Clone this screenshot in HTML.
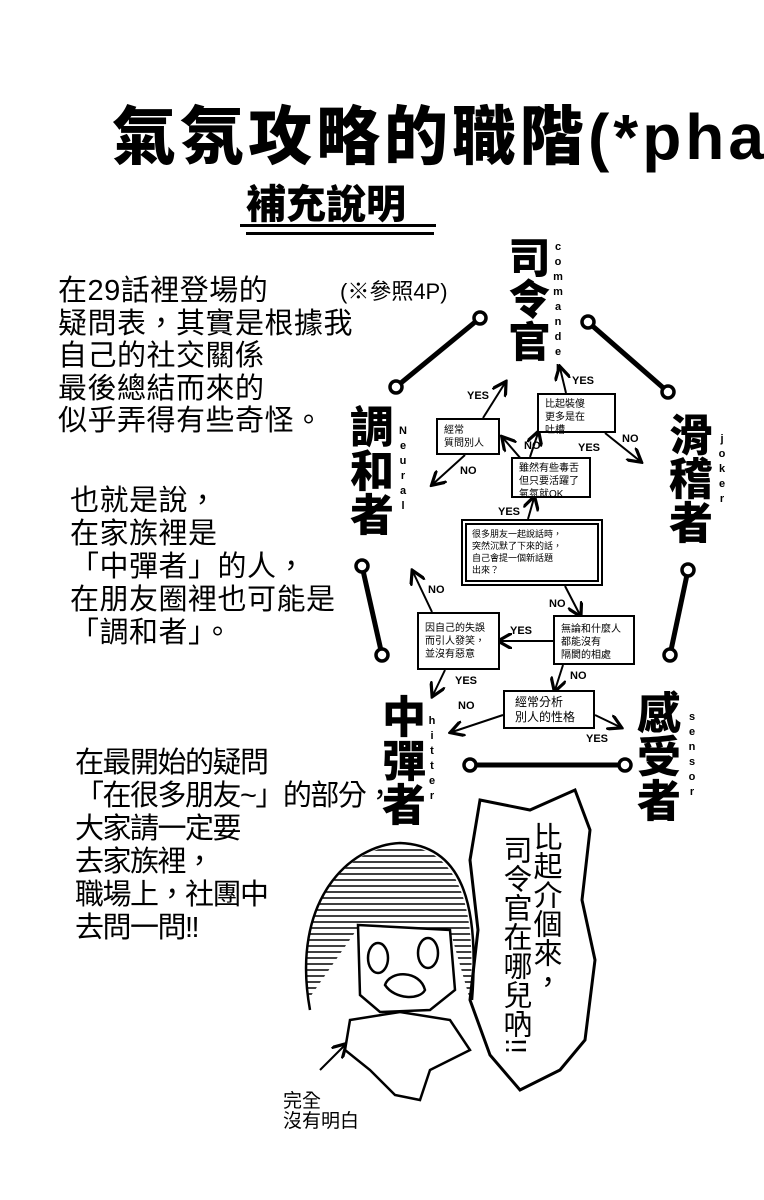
<!DOCTYPE html>
<html><head><meta charset="utf-8"><style>
body{margin:0;background:#fff}
#p{position:relative;width:764px;height:1200px;overflow:hidden;background:#fff;font-family:"Liberation Sans","Noto Sans CJK TC",sans-serif;color:#000}
.a{position:absolute;white-space:nowrap}
.v{position:absolute;writing-mode:vertical-rl;font-weight:900;line-height:1}
.s{position:absolute;font-size:11px;font-weight:bold;line-height:15px;text-align:center;width:10px}
.b{position:absolute;border:2.5px solid #000;font-size:10px;line-height:13px;padding:3px 6px;box-sizing:border-box;background:#fff}
.t{font-size:29px;line-height:32.5px;letter-spacing:0.5px}
.l{position:absolute;font-size:11px;font-weight:bold}
</style></head><body><div id="p">
<div class="a" style="left:112px;top:86px;font-size:64px;font-weight:900;letter-spacing:4px">氣氛攻略的職階(*pha</div>
<div class="a" style="left:246px;top:172px;font-size:40px;font-weight:900">補充說明</div>
<div class="a" style="left:240px;top:224px;width:196px;height:3px;background:#000"></div>
<div class="a" style="left:246px;top:232px;width:188px;height:3px;background:#000"></div>

<div class="a t" style="left:58px;top:275px">在29話裡登場的<br>疑問表，其實是根據我<br>自己的社交關係<br>最後總結而來的<br>似乎弄得有些奇怪。</div>
<div class="a" style="left:340px;top:274px;font-size:22px">(※參照4P)</div>
<div class="a t" style="left:70px;top:485px;line-height:33px">也就是說，<br>在家族裡是<br>「中彈者」的人，<br>在朋友圈裡也可能是<br>「調和者」。</div>
<div class="a t" style="left:75px;top:747px;line-height:33px;letter-spacing:-1.5px">在最開始的疑問<br>「在很多朋友~」的部分，<br>大家請一定要<br>去家族裡，<br>職場上，社團中<br>去問一問!!</div>

<div class="v" style="left:505px;top:236px;font-size:42px">司令官</div>
<div class="s" style="left:553px;top:240px">c<br>o<br>m<br>m<br>a<br>n<br>d<br>e<br>r</div>
<div class="v" style="left:345px;top:404px;font-size:44px">調和者</div>
<div class="s" style="left:398px;top:424px">N<br>e<br>u<br>r<br>a<br>l</div>
<div class="v" style="left:664px;top:412px;font-size:44px">滑稽者</div>
<div class="s" style="left:717px;top:432px">j<br>o<br>k<br>e<br>r</div>
<div class="v" style="left:377px;top:694px;font-size:44px">中彈者</div>
<div class="s" style="left:427px;top:714px">h<br>i<br>t<br>t<br>e<br>r</div>
<div class="v" style="left:632px;top:690px;font-size:44px">感受者</div>
<div class="s" style="left:687px;top:710px">s<br>e<br>n<br>s<br>o<br>r</div>

<svg class="a" style="left:0;top:0" width="764" height="1200">
<defs><marker id="m" markerWidth="8" markerHeight="8" refX="6" refY="4" orient="auto"><path d="M0,0L7,4L0,8" fill="none" stroke="#000" stroke-width="1.6"/></marker></defs>
<g stroke="#000" stroke-width="5" fill="#fff">
<line x1="480" y1="318" x2="396" y2="387"/><line x1="588" y1="322" x2="668" y2="392"/>
<line x1="362" y1="566" x2="382" y2="655"/><line x1="688" y1="570" x2="670" y2="655"/>
<line x1="470" y1="765" x2="625" y2="765"/>
<g stroke-width="3.5"><circle cx="480" cy="318" r="6"/><circle cx="396" cy="387" r="6"/><circle cx="588" cy="322" r="6"/><circle cx="668" cy="392" r="6"/><circle cx="362" cy="566" r="6"/><circle cx="382" cy="655" r="6"/><circle cx="688" cy="570" r="6"/><circle cx="670" cy="655" r="6"/><circle cx="470" cy="765" r="6"/><circle cx="625" cy="765" r="6"/></g>
</g>
<g stroke="#000" stroke-width="2" fill="none" marker-end="url(#m)">
<line x1="566" y1="393" x2="560" y2="368"/><line x1="483" y1="418" x2="505" y2="383"/>
<line x1="605" y1="433" x2="640" y2="461"/><line x1="465" y1="455" x2="433" y2="484"/>
<line x1="530" y1="457" x2="538" y2="433"/><line x1="522" y1="460" x2="503" y2="438"/>
<line x1="528" y1="519" x2="534" y2="498"/><line x1="565" y1="586" x2="580" y2="615"/>
<line x1="432" y1="612" x2="413" y2="572"/><line x1="553" y1="641" x2="500" y2="641"/>
<line x1="445" y1="670" x2="433" y2="695"/><line x1="563" y1="665" x2="555" y2="690"/>
<line x1="503" y1="715" x2="452" y2="732"/><line x1="595" y1="715" x2="620" y2="727"/>
<line x1="320" y1="1070" x2="345" y2="1045"/>
</g>
<g fill="#fff" stroke="#000" stroke-width="2"><rect x="462" y="520" width="140" height="65"/><rect x="466" y="524" width="132" height="57"/></g>
<path d="M480,800 L530,810 L575,790 L590,830 L582,900 L595,960 L585,1040 L560,1070 L520,1090 L490,1055 L470,1000 L478,930 L470,860 Z" fill="#fff" stroke="#000" stroke-width="3"/>
<g fill="none" stroke="#000" stroke-width="2.5">
<path d="M310,1010 C290,900 350,845 400,843 C460,845 480,900 472,1000"/>
</g>
<clipPath id="c"><path d="M308,1000 C295,900 350,846 400,846 C455,846 478,900 470,1000 L450,930 L360,925 Z"/></clipPath>
<g clip-path="url(#c)" stroke="#000" stroke-width="1.6">
<line x1="290" y1="850" x2="490" y2="850"/><line x1="290" y1="856" x2="490" y2="856"/><line x1="290" y1="862" x2="490" y2="862"/><line x1="290" y1="868" x2="490" y2="868"/><line x1="290" y1="874" x2="490" y2="874"/><line x1="290" y1="880" x2="490" y2="880"/><line x1="290" y1="886" x2="490" y2="886"/><line x1="290" y1="892" x2="490" y2="892"/><line x1="290" y1="898" x2="490" y2="898"/><line x1="290" y1="904" x2="490" y2="904"/><line x1="290" y1="910" x2="490" y2="910"/><line x1="290" y1="916" x2="490" y2="916"/><line x1="290" y1="922" x2="490" y2="922"/><line x1="290" y1="928" x2="490" y2="928"/><line x1="290" y1="934" x2="490" y2="934"/><line x1="290" y1="940" x2="490" y2="940"/><line x1="290" y1="946" x2="490" y2="946"/><line x1="290" y1="952" x2="490" y2="952"/><line x1="290" y1="958" x2="490" y2="958"/><line x1="290" y1="964" x2="490" y2="964"/><line x1="290" y1="970" x2="490" y2="970"/><line x1="290" y1="976" x2="490" y2="976"/><line x1="290" y1="982" x2="490" y2="982"/><line x1="290" y1="988" x2="490" y2="988"/><line x1="290" y1="994" x2="490" y2="994"/>
</g>
<g fill="#fff" stroke="#000" stroke-width="2.5">
<path d="M358,925 L450,930 L455,990 L430,1010 L380,1012 L360,995 Z"/>
<ellipse cx="378" cy="958" rx="10" ry="15"/><ellipse cx="428" cy="953" rx="10" ry="15"/>
<path d="M385,985 C390,970 420,970 425,990 C420,1000 395,1000 385,985Z"/>
<path d="M350,1020 L400,1012 L450,1020 L470,1050 L430,1070 L420,1100 L395,1095 L370,1070 L345,1050Z"/>
</g>
</svg>

<div class="b" style="left:537px;top:393px;width:79px;height:40px">比起裝傻<br>更多是在<br>吐槽</div>
<div class="b" style="left:436px;top:418px;width:64px;height:37px;padding-top:4px">經常<br>質問別人</div>
<div class="b" style="left:511px;top:457px;width:80px;height:41px">雖然有些毒舌<br>但只要活躍了<br>氣氛就OK</div>
<div class="a" style="left:472px;top:528px;font-size:9px;line-height:12px">很多朋友一起說話時，<br>突然沉默了下來的話，<br>自己會提一個新話題<br>出來？</div>
<div class="b" style="left:417px;top:612px;width:83px;height:58px;padding-top:8px">因自己的失誤<br>而引人發笑，<br>並沒有惡意</div>
<div class="b" style="left:553px;top:615px;width:82px;height:50px;padding-top:6px">無論和什麼人<br>都能沒有<br>隔閡的相處</div>
<div class="b" style="left:503px;top:690px;width:92px;height:39px;font-size:12px;line-height:15px;padding-left:10px">經常分析<br>別人的性格</div>

<div class="l" style="left:467px;top:390px">YES</div><div class="l" style="left:572px;top:375px">YES</div>
<div class="l" style="left:622px;top:433px">NO</div><div class="l" style="left:524px;top:440px">NO</div>
<div class="l" style="left:578px;top:442px">YES</div><div class="l" style="left:460px;top:465px">NO</div>
<div class="l" style="left:498px;top:506px">YES</div><div class="l" style="left:428px;top:584px">NO</div>
<div class="l" style="left:549px;top:598px">NO</div><div class="l" style="left:510px;top:625px">YES</div>
<div class="l" style="left:455px;top:675px">YES</div><div class="l" style="left:570px;top:670px">NO</div>
<div class="l" style="left:458px;top:700px">NO</div><div class="l" style="left:586px;top:733px">YES</div>

<div class="v" style="left:530px;top:822px;font-size:29px;font-weight:normal;line-height:1">比起介個來，</div>
<div class="v" style="left:500px;top:835px;font-size:29px;font-weight:normal;line-height:1">司令官在哪兒吶!!</div>
<div class="a" style="left:283px;top:1092px;font-size:19px;line-height:20px">完全<br>沒有明白</div>
</div></body></html>
